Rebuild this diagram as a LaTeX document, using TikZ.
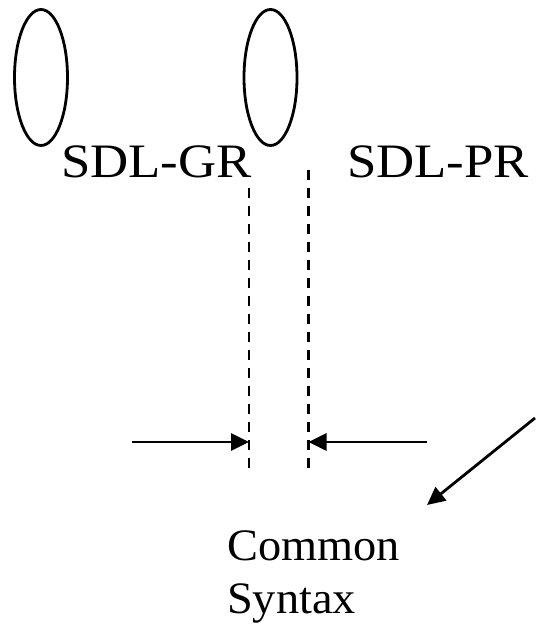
\documentclass[tikz,border=0pt]{standalone}
\usepackage{fontspec}
\setmainfont{Liberation Serif}
\usetikzlibrary{arrows.meta,shapes.geometric}
\begin{document}
\begin{tikzpicture}[x=1pt,y=-1pt,
  ring/.style={draw,ellipse,line width=2.8pt,minimum width=53pt,minimum height=136pt,inner sep=0pt},
  langname/.style={inner sep=0pt,anchor=base west,font=\fontsize{48}{56}\selectfont},
  note/.style={inner sep=0pt,anchor=base west,font=\fontsize{45}{54}\selectfont},
  border/.style={line width=2.8pt,dash pattern=on 10pt off 8pt},
  pointer/.style={line width=2.8pt,-{Triangle[length=18pt,width=17pt]}}]
\useasboundingbox (0,0) rectangle (535,631);
\node[ring] (gr) at (41,77.5) {};
\node[ring] (pr) at (270.5,77.5) {};
\node[langname] (grtext) at (61,178) {\scalebox{1.1}[1]{SDL-GR}};
\node[langname] (prtext) at (347,178) {\scalebox{1.1}[1]{SDL-PR}};
\coordinate (lt) at (249,188);
\coordinate (lb) at (249,473);
\coordinate (rt) at (308.5,170);
\coordinate (rb) at (308.5,473);
\draw[border] (lt) -- (lb);
\draw[border] (rt) -- (rb);
\coordinate (la) at (132,442);
\coordinate (lh) at (249,442);
\coordinate (ra) at (427,442);
\coordinate (rh) at (308.5,442);
\draw[pointer] (la) -- (lh);
\draw[pointer] (ra) -- (rh);
\node[note] (common) at (227,560) {\scalebox{1.03}[1]{Common}};
\node[note] (syntax) at (227,613) {\scalebox{1.03}[1]{Syntax}};
\coordinate (ds) at (535,418);
\coordinate (dh) at (427,505);
\draw[pointer] (ds) -- (dh);
\end{tikzpicture}
\end{document}
